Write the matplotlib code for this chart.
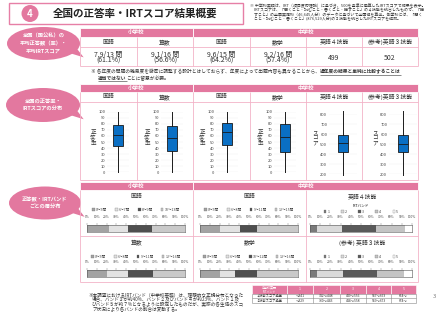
import matplotlib
matplotlib.use('Agg')
import matplotlib.pyplot as plt
from matplotlib.patches import Rectangle, Ellipse, Circle, Polygon, Patch

plt.rcParams['font.family'] = ['Noto Sans CJK JP', 'DejaVu Sans']

W, H = 440, 336
PINK = '#e3789f'
PINK_LINE = '#f2b3c8'
TXT = '#333333'

# ---- data ----
t1_subjects = ['国語', '算数', '国語', '数学', '英語４技能', '(参考)英語３技能']
t1_answers = ['7.9/13 問', '9.1/16 問', '9.6/15 問', '9.2/16 問', '499', '502']
t1_rates = ['(61.1%)', '(56.6%)', '(64.2%)', '(57.4%)', '', '']

box_min = [0, 0, 0, 0, 190, 190]
box_q1 = [44, 35, 45, 33, 420, 416]
box_med = [61, 57, 66, 59, 510, 503]
box_q3 = [78, 77, 81, 80, 586, 593]
box_max = [100, 100, 100, 100, 830, 830]

kokugo_e_groups = ['0～5問', '6～7問', '8～9問', '10～13問']
kokugo_e_share = [22, 20, 24, 34]
sansu_groups = ['0～5問', '6～8問', '9～11問', '12～16問']
sansu_share = [20, 22, 25, 33]
kokugo_m_groups = ['0～5問', '6～8問', '9～11問', '12～15問']
kokugo_m_share = [20, 21, 17, 42]
sugaku_groups = ['0～5問', '6～9問', '10～12問', '13～16問']
sugaku_share = [20, 16, 22, 42]
bands = ['1', '2', '3', '4', '5']
eng4_share = [7, 24, 34, 28, 7]
eng3_share = [7, 25, 34, 26, 8]

band_cols = ['1', '2', '3', '4', '5']
band4_ranges = ['～341', '342～448', '449～556', '557～663', '664～']
band3_ranges = ['～329', '330～443', '444～558', '559～673', '674～']

group_colors = ['#a3a3a3', '#e2e2e2', '#4f4f4f', '#c9c9c9']
band_colors = ['#7a7a7a', '#dadada', '#5a5a5a', '#c4c4c4', '#ffffff']

fig = plt.figure(figsize=(4.4, 3.36), dpi=100)
base = fig.add_axes([0, 0, 1, 1])
base.set_xlim(0, W)
base.set_ylim(H, 0)
base.axis('off')


def fig_rect(x, y, w, h):
    return [x / W, 1 - (y + h) / H, w / W, h / H]


def hline(x0, x1, y, c=PINK_LINE, lw=0.6):
    base.plot([x0, x1], [y, y], color=c, lw=lw, solid_capstyle='butt')


def vline(x, y0, y1, c=PINK_LINE, lw=0.6):
    base.plot([x, x], [y0, y1], color=c, lw=lw, solid_capstyle='butt')


def header(cells, y, h):
    for x0, x1, label in cells:
        base.add_patch(Rectangle((x0, y), x1 - x0, h, fc=PINK, ec='white', lw=0.6))
        base.text((x0 + x1) / 2, y + h / 2, label, fontsize=4, color='white',
                  fontweight='bold', ha='center', va='center')


def bubble(cx, cy, w, h, text):
    base.add_patch(Polygon([[cx + w * 0.3, cy + h * 0.25], [cx + w * 0.55, cy + h * 0.42],
                            [cx + w * 0.42, cy + h * 0.05]], closed=True, fc=PINK, ec='none'))
    base.add_patch(Ellipse((cx, cy), w, h, fc=PINK, ec='none'))
    base.text(cx, cy, text, fontsize=3.8, color='white', fontweight='bold',
              ha='center', va='center', linespacing=1.5)


def seq_text(x, y, parts, size):
    r = fig.canvas.get_renderer()
    for s, bold in parts:
        t = base.text(x, y, s, fontsize=size, color=TXT, ha='left', va='center',
                      fontweight='bold' if bold else 'normal')
        bb = t.get_window_extent(renderer=r)
        if bold:
            hline(x, x + bb.width, y + 2.5, c=TXT, lw=0.4)
        x += bb.width


# ---- title ----
base.add_patch(Rectangle((9, 3), 234, 21, fc='white', ec='#e67fa6', lw=1.0))
base.add_patch(Circle((30, 13.5), 8.5, fc=PINK, ec='none'))
base.text(30, 13.8, '4', fontsize=7, color='white', fontweight='bold', ha='center', va='center')
base.text(53, 13.5, '全国の正答率・IRTスコア結果概要', fontsize=7.6, fontweight='bold',
          color='#222222', ha='left', va='center')

note_top = ['※ 中学校英語は、IRT（項目反応理論）に基づき、500を基準に換算したIRTスコアで結果を表示。',
            '　IRTスコアは、「聞くこと・読むこと・書くこと・話すこと」の４技能を統合したもので、「話',
            '　すこと」の全国実施校（46,645人分）のデータに基づいて全国値を算出。各学校には、「聞く',
            '　こと・読むこと・書くこと」(876,529人分)の３技能を統合したIRTスコアを返却。']
for k, line in enumerate(note_top):
    base.text(250, 6 + k * 4.5, line, fontsize=2.85, color=TXT, ha='left', va='center')

# ---- bubbles ----
bubble(43.5, 43.5, 73, 33, '全国（国公私）の\n平均正答数（率）・\n平均IRTスコア')
bubble(43, 105, 74, 34, '全国の正答率・\nIRTスコアの分布')
bubble(45, 203, 72, 33, '正答数・IRTバンド\nごとの層分布')

cols6 = [80, 137, 193, 250, 306, 362, 418]
centers6 = [(cols6[i] + cols6[i + 1]) / 2 for i in range(6)]

# ---- table 1 ----
header([(80, 193, '小学校'), (193, 418, '中学校')], 28, 9)
for y in (47, 66):
    hline(80, 418, y)
for x in cols6:
    vline(x, 37, 66)
for i in range(6):
    base.text(centers6[i], 42, t1_subjects[i], fontsize=4.2, color=TXT, ha='center', va='center')
    if t1_rates[i]:
        base.text(centers6[i], 54.5, t1_answers[i], fontsize=5, color=TXT, ha='center', va='center')
        base.text(centers6[i], 61, t1_rates[i], fontsize=5, color=TXT, ha='center', va='center')
    else:
        base.text(centers6[i], 58, t1_answers[i], fontsize=5, color=TXT, ha='center', va='center')

seq_text(91, 72, [('※ 各年度の問題の難易度を厳密に調整する設計とはしておらず、年度によって出題内容も異なることから、', False),
                  ('過年度の結果と単純に比較することは', True)], 3.4)
seq_text(98, 78.5, [('適当ではない', True), ('ことに留意が必要。', False)], 3.4)

# ---- table 2 (box plots) ----
header([(80, 193, '小学校'), (193, 418, '中学校')], 84, 8)
for y in (102, 180):
    hline(80, 418, y)
for x in cols6:
    vline(x, 92, 180)
for i in range(6):
    base.text(centers6[i], 97, t1_subjects[i], fontsize=4.2, color=TXT, ha='center', va='center')

box_centers = [118, 172, 227, 285, 343, 403]
for i, c in enumerate(box_centers):
    eng = i >= 4
    gap = 14 if eng else 11
    top, bottom = (114, 174) if eng else (112, 172)
    ax = fig.add_axes(fig_rect(c - gap, top, 2 * gap, bottom - top))
    stats = [dict(whislo=box_min[i], q1=box_q1[i], med=box_med[i], q3=box_q3[i], whishi=box_max[i])]
    parts = ax.bxp(stats, widths=10 / (2 * gap), patch_artist=True, showfliers=False, showcaps=False,
                   boxprops=dict(facecolor='#0a6fc4', edgecolor='#1a1a1a', lw=0.6),
                   medianprops=dict(color='#1a1a1a', lw=0.6),
                   whiskerprops=dict(color='#1a1a1a', lw=0.7))
    for wl in parts['whiskers']:
        wl.set_clip_on(False)
    ax.set_xlim(0.5, 1.5)
    if eng:
        ax.set_ylim(200, 800)
        ax.set_yticks(range(200, 801, 100))
    else:
        ax.set_ylim(0, 100)
        ax.set_yticks(range(0, 101, 10))
    ax.set_xticks([])
    ax.tick_params(axis='y', length=0, pad=1.2, labelsize=2.9, labelcolor='#444444')
    ax.grid(axis='y', color='#ececec', lw=0.3)
    ax.set_axisbelow(True)
    for sp in ax.spines.values():
        sp.set_visible(False)
    ax.patch.set_alpha(0)
    label = 'ス\nコ\nア' if eng else '正\n答\n率'
    base.text(c - gap - (14 if eng else 14), 138, label, fontsize=4.0, color=TXT,
              ha='center', va='center', linespacing=1.0)

# ---- table 3 (stacked bars) ----
header([(80, 193, '小学校'), (193, 418, '中学校')], 182, 8)
hline(80, 418, 236)
hline(80, 418, 282)
for x in (80, 193, 306, 418):
    vline(x, 190, 282)
sub1 = [(136.5, '国語'), (249.5, '国語'), (362, '英語４技能')]
sub2 = [(136.5, '算数'), (249.5, '数学'), (362, '(参考) 英語３技能')]
for (x, s1), (_, s2) in zip(sub1, sub2):
    base.text(x, 196.5, s1, fontsize=4.2, color=TXT, ha='center', va='center')
    base.text(x, 242.5, s2, fontsize=4.2, color=TXT, ha='center', va='center')


def stack_bar(x, y, w, shares, labels, colors, legend_y, title=None, colspace=2.2):
    ax = fig.add_axes(fig_rect(x, y, w, 7))
    left = 0
    for s, c in zip(shares, colors):
        ax.barh(0, s, left=left, height=1, color=c, edgecolor='none')
        left += s
    ax.set_xlim(0, 100)
    ax.set_ylim(-0.5, 0.5)
    ax.set_yticks([])
    ax.set_xticks(range(0, 101, 10))
    ax.set_xticklabels(['%d%%' % v for v in range(0, 101, 10)])
    ax.xaxis.set_ticks_position('top')
    ax.tick_params(axis='x', length=1.5, width=0.3, pad=2.6, labelsize=2.3,
                   colors='#777777', labelcolor='#444444')
    for sp in ax.spines.values():
        sp.set_linewidth(0.4)
        sp.set_color('#555555')
    handles = [Patch(facecolor=c, edgecolor='#666666', lw=0.2, label=l) for l, c in zip(labels, colors)]
    leg = ax.legend(handles=handles, ncol=len(labels), loc='center',
                    bbox_to_anchor=((x + w / 2) / W, 1 - legend_y / H), bbox_transform=fig.transFigure,
                    fontsize=2.6, frameon=False, handlelength=0.7, handleheight=0.7,
                    handletextpad=0.3, columnspacing=colspace, title=title, title_fontsize=2.6)
    for t in leg.get_texts():
        t.set_color('#444444')


stack_bar(87, 225, 98, kokugo_e_share, kokugo_e_groups, group_colors, 210)
stack_bar(87, 270, 98, sansu_share, sansu_groups, group_colors, 256.5)
stack_bar(200, 225, 98, kokugo_m_share, kokugo_m_groups, group_colors, 210)
stack_bar(200, 270, 98, sugaku_share, sugaku_groups, group_colors, 256.5)
stack_bar(310, 225, 102, eng4_share, bands, band_colors, 209, title='IRTバンド', colspace=3.2)
stack_bar(310, 270, 102, eng3_share, bands, band_colors, 257, colspace=3.2)

# ---- footnote ----
foot = ['※本調査におけるIRTバンド（中学校英語）は、理想的な正規分布となった',
        '場合、バンド３が約40%、バンド２及びバンド４が約23%、バンド１及',
        'びバンド５が約７%となるように設定したものだが、実際の各生徒のスコ',
        'ア状況により各バンドの割合は変動する。']
for k, line in enumerate(foot):
    base.text(88 if k == 0 else 92, 295 + k * 4.8, line, fontsize=3.3, color=TXT, ha='left', va='center')

# ---- band table ----
bx = [252, 287, 313, 340, 366, 391, 416]
by = [285, 293.5, 298.2, 303]
base.add_patch(Rectangle((bx[0], by[0]), bx[1] - bx[0], by[1] - by[0], fc=PINK, ec='white', lw=0.4))
base.text((bx[0] + bx[1]) / 2, (by[0] + by[1]) / 2, '中学校英語\nIRTバンド', fontsize=2.2, color='white',
          ha='center', va='center', linespacing=1.1)
for j, b in enumerate(band_cols):
    base.add_patch(Rectangle((bx[j + 1], by[0]), bx[j + 2] - bx[j + 1], by[1] - by[0], fc=PINK, ec='white', lw=0.4))
    base.text((bx[j + 1] + bx[j + 2]) / 2, (by[0] + by[1]) / 2, b, fontsize=2.6, color='white',
              ha='center', va='center')
rows = [('４技能スコア換算', band4_ranges), ('３技能スコア換算', band3_ranges)]
for r, (name, vals) in enumerate(rows):
    yc = (by[r + 1] + by[r + 2]) / 2
    base.text((bx[0] + bx[1]) / 2, yc, name, fontsize=2.3, color=TXT, ha='center', va='center')
    for j, v in enumerate(vals):
        base.text((bx[j + 1] + bx[j + 2]) / 2, yc, v, fontsize=2.4, color=TXT, ha='center', va='center')
for y in by[1:]:
    hline(bx[0], bx[-1], y, c='#888888', lw=0.4)
for x in bx:
    vline(x, by[1], by[-1], c='#888888', lw=0.4)

base.text(434, 297, '3', fontsize=4.2, color='#777777', ha='center', va='center')

fig.savefig('out.png', dpi=100)
